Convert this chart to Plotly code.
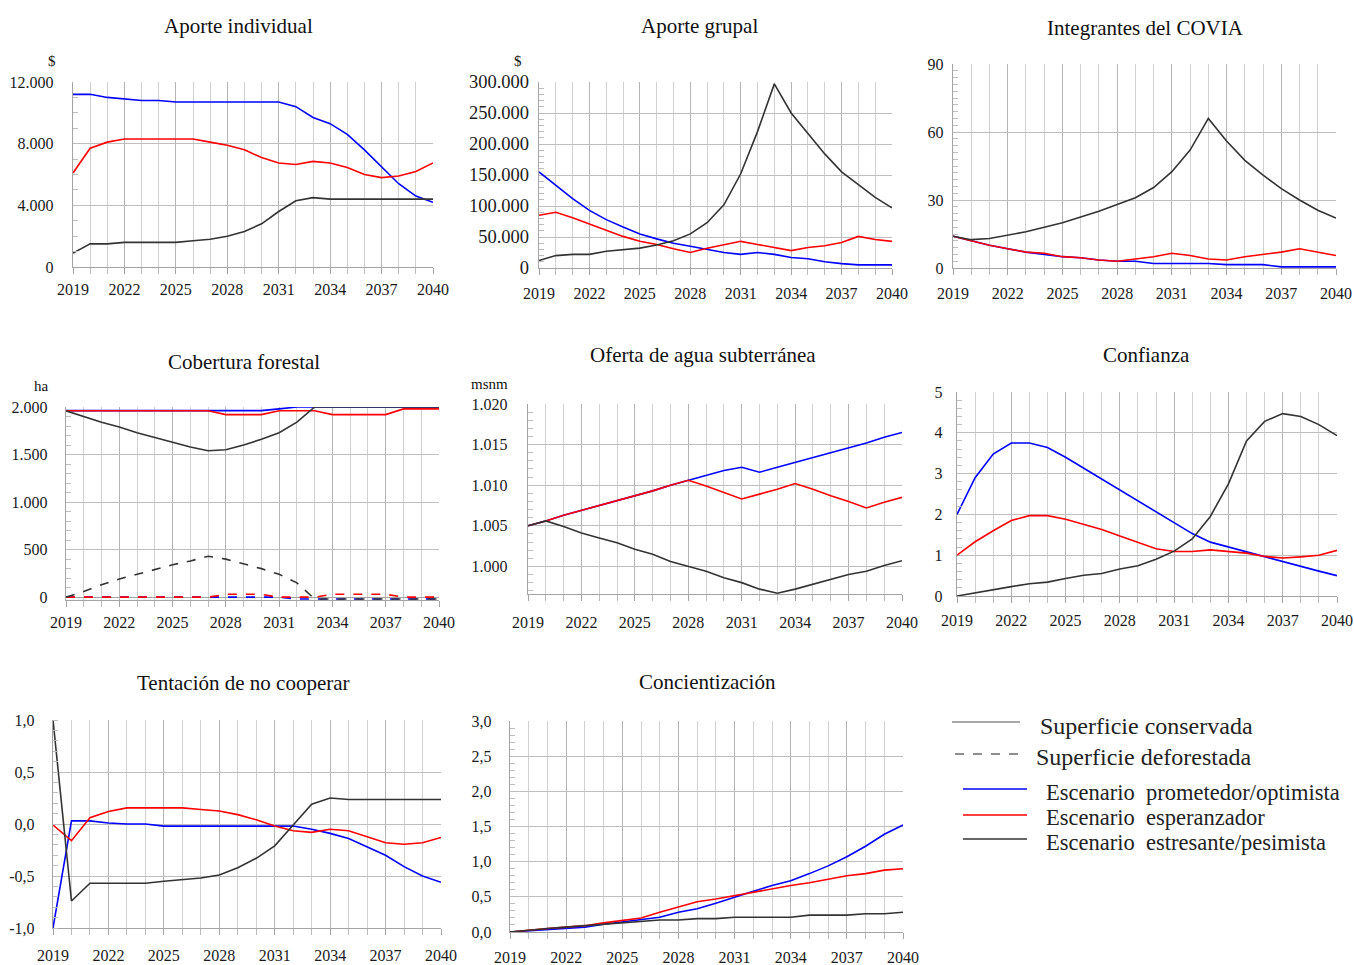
import plotly.graph_objects as go

years = list(range(2019, 2041))

# Aporte individual ($)
p1_blue = [11200, 11200, 11000, 10900, 10800, 10800, 10700, 10700, 10700, 10700, 10700, 10700, 10700, 10400, 9700, 9300, 8600, 7600, 6500, 5400, 4600, 4200]
p1_red = [6100, 7700, 8100, 8300, 8300, 8300, 8300, 8300, 8100, 7900, 7600, 7100, 6750, 6650, 6850, 6750, 6450, 6000, 5800, 5900, 6200, 6750]
p1_black = [900, 1500, 1500, 1600, 1600, 1600, 1600, 1700, 1800, 2000, 2300, 2800, 3600, 4300, 4500, 4400, 4400, 4400, 4400, 4400, 4400, 4400]

# Aporte grupal ($)
p2_blue = [155000, 133000, 112000, 93000, 78000, 66000, 55000, 47000, 40000, 35000, 30000, 25000, 22000, 25000, 22000, 17000, 15000, 10000, 7000, 5000, 5000, 5000]
p2_red = [85000, 90000, 81000, 71000, 61000, 51000, 43000, 38000, 31000, 25000, 32000, 38000, 43000, 38000, 33000, 28000, 33000, 36000, 41000, 51000, 46000, 43000]
p2_black = [12000, 20000, 22000, 22000, 27000, 30000, 32000, 37000, 44000, 55000, 73000, 102000, 152000, 220000, 297000, 250000, 217000, 184000, 155000, 135000, 114000, 97000]

# Integrantes del COVIA
p3_blue = [14, 12, 10, 8.5, 7, 6, 5, 4.5, 3.5, 3, 3, 2, 2, 2, 2, 1.5, 1.5, 1.5, 0.5, 0.5, 0.5, 0.5]
p3_red = [14, 12, 10, 8.5, 7, 6.5, 5, 4.5, 3.5, 3, 4, 5, 6.5, 5.5, 4, 3.5, 5, 6, 7, 8.5, 7, 5.5]
p3_black = [14, 12.5, 13, 14.5, 16, 18, 20, 22.5, 25, 28, 31, 35.5, 42.5, 52, 66, 56, 47.5, 41, 35, 30, 25.5, 22]

# Cobertura forestal (ha): conservada (solid) / deforestada (dashed)
p4_blue_cons = [1962, 1962, 1962, 1962, 1962, 1962, 1962, 1962, 1962, 1962, 1962, 1962, 1980, 2000, 2000, 2000, 2000, 2000, 2000, 1995, 2000, 2000]
p4_red_cons = [1960, 1960, 1960, 1960, 1960, 1960, 1960, 1960, 1960, 1920, 1920, 1920, 1960, 1960, 1960, 1920, 1920, 1920, 1920, 1980, 1980, 1980]
p4_black_cons = [1960, 1900, 1840, 1790, 1730, 1680, 1630, 1580, 1540, 1550, 1600, 1660, 1730, 1840, 2000, 2000, 2000, 2000, 2000, 2000, 2000, 2000]
p4_blue_def = [0, 0, 0, 0, 0, 0, 0, 0, 0, 0, 0, 0, 0, -20, -20, -20, -20, -20, -20, -20, -20, -20]
p4_red_def = [0, 0, 0, 0, 0, 0, 0, 0, 0, 30, 30, 30, 0, 0, 0, 30, 30, 30, 30, 0, 0, 0]
p4_black_def = [0, 60, 130, 190, 240, 290, 340, 380, 430, 400, 350, 300, 240, 150, -20, -20, -20, -20, -20, -20, -20, -20]

# Oferta de agua subterránea (msnm)
p5_blue = [1005.0, 1005.6, 1006.3, 1006.9, 1007.5, 1008.1, 1008.7, 1009.3, 1010.0, 1010.6, 1011.2, 1011.8, 1012.2, 1011.6, 1012.2, 1012.8, 1013.4, 1014.0, 1014.6, 1015.2, 1015.9, 1016.5]
p5_red = [1005.0, 1005.6, 1006.3, 1006.9, 1007.5, 1008.1, 1008.7, 1009.3, 1010.0, 1010.6, 1009.9, 1009.1, 1008.3, 1008.9, 1009.5, 1010.2, 1009.5, 1008.7, 1008.0, 1007.2, 1007.9, 1008.5]
p5_black = [1005.0, 1005.6, 1004.9, 1004.1, 1003.5, 1002.9, 1002.1, 1001.5, 1000.6, 1000.0, 999.4, 998.6, 998.0, 997.2, 996.7, 997.2, 997.8, 998.4, 999.0, 999.4, 1000.1, 1000.7]

# Confianza
p6_blue = [2.0, 2.9, 3.48, 3.75, 3.75, 3.64, 3.4, 3.13, 2.86, 2.6, 2.33, 2.05, 1.8, 1.53, 1.32, 1.2, 1.08, 0.97, 0.85, 0.73, 0.61, 0.5]
p6_red = [1.0, 1.33, 1.6, 1.85, 1.97, 1.97, 1.88, 1.75, 1.63, 1.47, 1.31, 1.16, 1.09, 1.09, 1.13, 1.09, 1.05, 0.97, 0.93, 0.96, 1.0, 1.12]
p6_black = [0, 0.08, 0.15, 0.23, 0.3, 0.34, 0.43, 0.51, 0.55, 0.66, 0.74, 0.9, 1.1, 1.4, 1.95, 2.75, 3.8, 4.28, 4.47, 4.4, 4.2, 3.93]

# Tentación de no cooperar
p7_blue = [-1.0, 0.03, 0.03, 0.01, 0.0, 0.0, -0.02, -0.02, -0.02, -0.02, -0.02, -0.02, -0.02, -0.02, -0.05, -0.09, -0.14, -0.22, -0.30, -0.41, -0.50, -0.56]
p7_red = [-0.01, -0.16, 0.06, 0.12, 0.155, 0.155, 0.155, 0.155, 0.14, 0.125, 0.09, 0.04, -0.02, -0.065, -0.08, -0.05, -0.065, -0.12, -0.18, -0.195, -0.18, -0.13]
p7_black = [1.0, -0.74, -0.57, -0.57, -0.57, -0.57, -0.55, -0.535, -0.52, -0.49, -0.42, -0.33, -0.21, -0.01, 0.19, 0.25, 0.235, 0.235, 0.235, 0.235, 0.235, 0.235]
p7_tickvals = [-1.0, -0.5, 0.0, 0.5, 1.0]
p7_ticktext = ["-1,0", "-0,5", "0,0", "0,5", "1,0"]

# Concientización
p8_blue = [0, 0.02, 0.03, 0.05, 0.07, 0.11, 0.14, 0.17, 0.21, 0.28, 0.33, 0.41, 0.5, 0.58, 0.66, 0.73, 0.83, 0.94, 1.07, 1.22, 1.39, 1.52]
p8_red = [0, 0.03, 0.05, 0.07, 0.09, 0.13, 0.16, 0.2, 0.28, 0.35, 0.43, 0.47, 0.52, 0.56, 0.61, 0.66, 0.7, 0.75, 0.8, 0.83, 0.88, 0.9]
p8_black = [0, 0.03, 0.05, 0.07, 0.09, 0.12, 0.14, 0.15, 0.17, 0.17, 0.19, 0.19, 0.21, 0.21, 0.21, 0.21, 0.24, 0.24, 0.24, 0.26, 0.26, 0.28]

legend_labels = ["Superficie conservada", "Superficie deforestada",
                 "Escenario\u00a0 prometedor/optimista", "Escenario\u00a0 esperanzador",
                 "Escenario\u00a0 estresante/pesimista"]

BLUE, RED, BLACK = "#0000ff", "#ff0000", "#333333"
FONT = "Liberation Serif"
W, H = 1354, 965


def fx(x):
    return x / W


def fy(y):
    return 1 - y / H


panels = [
    dict(title="Aporte individual", t=(238, 26), unit="$", u=(52, 61), dom=(73, 433, 82, 267),
         rng=[0, 12000], dtick=4000, minor=1000, fmt=",d", fs=16, ys=15, xs=2,
         series=[(p1_blue, BLUE, "solid"), (p1_red, RED, "solid"), (p1_black, BLACK, "solid")]),
    dict(title="Aporte grupal", t=(699, 26), unit="$", u=(518, 61), dom=(539, 892, 82, 268),
         rng=[0, 300000], dtick=50000, minor=10000, fmt=",d", fs=18.5, ys=5, xs=5,
         series=[(p2_blue, BLUE, "solid"), (p2_red, RED, "solid"), (p2_black, BLACK, "solid")]),
    dict(title="Integrantes del COVIA", t=(1145, 28), unit=None, dom=(953, 1336, 64, 268),
         rng=[0, 90], dtick=30, minor=3, fmt="d", fs=16, ys=5, xs=5,
         series=[(p3_blue, BLUE, "solid"), (p3_red, RED, "solid"), (p3_black, BLACK, "solid")]),
    dict(title="Cobertura forestal", t=(244, 362), unit="ha", u=(41, 386), dom=(66, 439, 407, 600),
         rng=[-30, 2000], dtick=500, minor=100, fmt=",d", zero=True, fs=16, ys=14, xs=2,
         series=[(p4_blue_cons, BLUE, "solid"), (p4_red_cons, RED, "solid"), (p4_black_cons, BLACK, "solid"),
                 (p4_blue_def, BLUE, "dash"), (p4_red_def, RED, "dash"), (p4_black_def, BLACK, "dash")]),
    dict(title="Oferta de agua subterránea", t=(703, 355), unit="msnm", u=(489, 384), dom=(528, 902, 404, 594),
         rng=[996.6, 1020], dtick=5, minor=1, fmt=",d", tick0=1000, fs=16, ys=16, xs=8,
         series=[(p5_blue, BLUE, "solid"), (p5_red, RED, "solid"), (p5_black, BLACK, "solid")]),
    dict(title="Confianza", t=(1146, 355), unit=None, dom=(957, 1337, 392, 596),
         rng=[0, 5], dtick=1, minor=0.2, fmt="d", fs=16, ys=10, xs=4,
         series=[(p6_blue, BLUE, "solid"), (p6_red, RED, "solid"), (p6_black, BLACK, "solid")]),
    dict(title="Tentación de no cooperar", t=(243, 683), unit=None, dom=(53, 441, 720, 928),
         rng=[-1, 1], dtick=0.5, minor=0.1, fmt=".1f", fs=16, ys=14, xs=7,
         tickvals=p7_tickvals, ticktext=p7_ticktext,
         series=[(p7_blue, BLUE, "solid"), (p7_red, RED, "solid"), (p7_black, BLACK, "solid")]),
    dict(title="Concientización", t=(707, 682), unit=None, dom=(510, 903, 721, 932),
         rng=[0, 3], dtick=0.5, minor=0.1, fmt=".1f", fs=16, ys=14, xs=5,
         series=[(p8_blue, BLUE, "solid"), (p8_red, RED, "solid"), (p8_black, BLACK, "solid")]),
]

fig = go.Figure()
annotations = []
shapes = []
layout = {}

for i, p in enumerate(panels, start=1):
    sfx = "" if i == 1 else str(i)
    x0, x1, y0, y1 = p["dom"]
    tickfont = dict(family=FONT, size=p["fs"], color="#1a1a1a")
    for vals, col, dash in p["series"]:
        fig.add_trace(go.Scatter(x=years, y=vals, mode="lines",
                                 line=dict(color=col, width=1.6, dash=dash),
                                 xaxis="x" + sfx, yaxis="y" + sfx, showlegend=False,
                                 hoverinfo="x+y"))
    layout["xaxis" + sfx] = dict(
        domain=[fx(x0), fx(x1)], anchor="y" + sfx, range=[2019, 2040], automargin=False,
        tick0=2019, dtick=3, tickformat="d", separatethousands=False,
        showgrid=True, gridcolor="#b4b4b4", gridwidth=1.4,
        showline=True, linecolor="#a4a4a4", linewidth=1.4,
        ticks="outside", ticklen=6, tickcolor="#a4a4a4", ticklabelstandoff=p["xs"],
        minor=dict(dtick=1, showgrid=True, gridcolor="#d0d0d0", gridwidth=1.2,
                   ticks="outside", ticklen=6, tickcolor="#bcbcbc"),
        tickfont=dict(family=FONT, size=16, color="#1a1a1a"), zeroline=False, fixedrange=True)
    ydict = dict(
        domain=[fy(y1), fy(y0)], anchor="x" + sfx, range=p["rng"], automargin=False,
        dtick=p["dtick"], tick0=p.get("tick0", 0), tickformat=p["fmt"], separatethousands=True,
        showgrid=True, gridcolor="#bebebe", gridwidth=1.4,
        showline=True, linecolor="#a4a4a4", linewidth=1.4,
        ticks="", tickfont=tickfont, ticklabelstandoff=p["ys"],
        minor=dict(dtick=p["minor"], ticks="inside", ticklen=5, tickcolor="#bdbdbd", showgrid=False),
        zeroline=bool(p.get("zero", False)), zerolinecolor="#a4a4a4", zerolinewidth=1.4,
        fixedrange=True)
    if "tickvals" in p:
        ydict.update(tickmode="array", tickvals=p["tickvals"], ticktext=p["ticktext"])
    layout["yaxis" + sfx] = ydict
    annotations.append(dict(text=p["title"], x=fx(p["t"][0]), y=fy(p["t"][1]), xref="paper", yref="paper",
                            xanchor="center", yanchor="middle", showarrow=False,
                            font=dict(family=FONT, size=21, color="#111111")))
    if p["unit"]:
        annotations.append(dict(text=p["unit"], x=fx(p["u"][0]), y=fy(p["u"][1]), xref="paper", yref="paper",
                                xanchor="center", yanchor="middle", showarrow=False,
                                font=dict(family=FONT, size=15, color="#111111")))

# legend (drawn manually in the empty 9th cell)
leg_items = [
    (legend_labels[0], "#8a8a8a", "solid", 952, 1020, 722, 1038, 726, 24),
    (legend_labels[1], "#6a6a6a", "dash", 955, 1018, 754, 1034, 757, 24),
    (legend_labels[2], BLUE, "solid", 963, 1027, 789, 1044, 792, 22.5),
    (legend_labels[3], RED, "solid", 963, 1027, 815, 1044, 817, 22.5),
    (legend_labels[4], BLACK, "solid", 963, 1027, 839, 1044, 842, 22.5),
]
for text, col, dash, lx0, lx1, ly, tx, ty, fsz in leg_items:
    shapes.append(dict(type="line", xref="paper", yref="paper", x0=fx(lx0), x1=fx(lx1), y0=fy(ly), y1=fy(ly),
                       line=dict(color=col, width=1.5, dash=dash)))
    annotations.append(dict(text=text, x=fx(tx), y=fy(ty), xref="paper", yref="paper",
                            xanchor="left", yanchor="middle", showarrow=False,
                            font=dict(family=FONT, size=fsz, color="#222222")))

fig.update_layout(
    width=W, height=H, margin=dict(l=0, r=0, t=0, b=0, pad=0, autoexpand=False),
    paper_bgcolor="white", plot_bgcolor="white",
    separators=",.", font=dict(family=FONT, color="#1a1a1a"),
    annotations=annotations, shapes=shapes, showlegend=False,
    **layout)

fig.write_html("out.html", config={"displayModeBar": False})
